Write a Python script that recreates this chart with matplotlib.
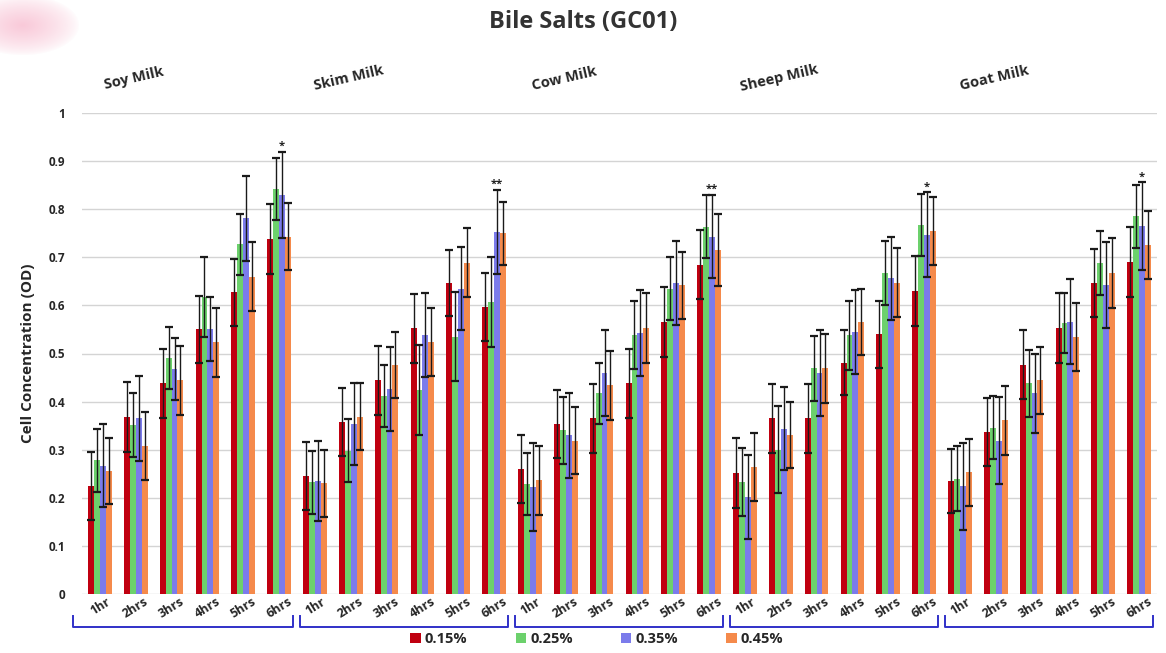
import numpy as np
import matplotlib
matplotlib.use("Agg")
import matplotlib.pyplot as plt
from matplotlib.patches import Patch

plt.rcParams['font.family'] = ['Open Sans', 'DejaVu Sans']

title = "Bile Salts (GC01)"
milks = ["Soy Milk", "Skim Milk", "Cow Milk", "Sheep Milk", "Goat Milk"]
hours = ["1hr", "2hrs", "3hrs", "4hrs", "5hrs", "6hrs"]
series = ["0.15%", "0.25%", "0.35%", "0.45%"]
colors = ["#C00010", "#6CD16C", "#7B7BEB", "#F58A4B"]

# mean OD per milk (rows) and time point (columns)
od_015 = [[0.224, 0.368, 0.438, 0.550, 0.627, 0.738],
          [0.245, 0.358, 0.444, 0.552, 0.646, 0.597],
          [0.260, 0.354, 0.365, 0.438, 0.566, 0.685],
          [0.251, 0.365, 0.365, 0.481, 0.540, 0.630],
          [0.235, 0.337, 0.477, 0.553, 0.646, 0.691]]
od_025 = [[0.278, 0.351, 0.491, 0.618, 0.727, 0.842],
          [0.232, 0.298, 0.412, 0.424, 0.535, 0.607],
          [0.229, 0.340, 0.417, 0.538, 0.635, 0.764],
          [0.233, 0.300, 0.469, 0.538, 0.667, 0.767],
          [0.240, 0.346, 0.438, 0.563, 0.688, 0.785]]
od_035 = [[0.267, 0.365, 0.468, 0.551, 0.781, 0.830],
          [0.235, 0.354, 0.426, 0.538, 0.635, 0.753],
          [0.222, 0.330, 0.460, 0.542, 0.646, 0.743],
          [0.201, 0.344, 0.460, 0.545, 0.656, 0.747],
          [0.224, 0.319, 0.417, 0.566, 0.642, 0.765]]
od_045 = [[0.256, 0.308, 0.444, 0.523, 0.660, 0.743],
          [0.230, 0.369, 0.476, 0.524, 0.689, 0.750],
          [0.236, 0.319, 0.434, 0.553, 0.642, 0.715],
          [0.264, 0.330, 0.469, 0.566, 0.647, 0.755],
          [0.253, 0.361, 0.444, 0.535, 0.667, 0.726]]

# standard deviations
sd_015 = [[0.071, 0.073, 0.072, 0.069, 0.069, 0.072],
          [0.070, 0.071, 0.072, 0.072, 0.069, 0.070],
          [0.070, 0.071, 0.071, 0.072, 0.073, 0.072],
          [0.073, 0.071, 0.071, 0.068, 0.070, 0.073],
          [0.067, 0.071, 0.072, 0.072, 0.071, 0.073]]
sd_025 = [[0.066, 0.066, 0.065, 0.083, 0.063, 0.064],
          [0.065, 0.065, 0.064, 0.093, 0.093, 0.094],
          [0.065, 0.070, 0.064, 0.071, 0.066, 0.066],
          [0.071, 0.090, 0.067, 0.072, 0.066, 0.064],
          [0.067, 0.066, 0.069, 0.062, 0.067, 0.066]]
sd_035 = [[0.087, 0.089, 0.065, 0.067, 0.088, 0.089],
          [0.084, 0.085, 0.088, 0.087, 0.087, 0.087],
          [0.092, 0.088, 0.089, 0.089, 0.087, 0.087],
          [0.087, 0.087, 0.089, 0.087, 0.087, 0.088],
          [0.090, 0.091, 0.083, 0.088, 0.089, 0.091]]
sd_045 = [[0.068, 0.070, 0.071, 0.071, 0.071, 0.070],
          [0.070, 0.070, 0.069, 0.071, 0.071, 0.066],
          [0.071, 0.070, 0.072, 0.073, 0.070, 0.075],
          [0.071, 0.069, 0.071, 0.069, 0.072, 0.071],
          [0.070, 0.071, 0.070, 0.071, 0.073, 0.071]]

# significance marks on the 6 h, 0.35% bar of each milk
stars = ["*", "**", "**", "*", "*"]

means = [od_015, od_025, od_035, od_045]
sds = [sd_015, sd_025, sd_035, sd_045]

fig = plt.figure(figsize=(11.66, 6.53), dpi=100)
fig.patch.set_facecolor("white")

# pink smudge in the upper-left corner, fading out to white on every side
smudge = fig.add_axes([0.0, 1 - 56 / 653, 80 / 1166, 56 / 653])
gx, gy = np.meshgrid(np.linspace(0, 1, 80), np.linspace(0, 1, 56))
r = np.hypot((gx - 0.28) / 0.72, (gy - 0.45) / 0.55)
alpha = np.clip(1.0 - r, 0, 1) ** 0.7 * 0.75
img = np.zeros((56, 80, 4))
img[..., 0], img[..., 1], img[..., 2] = 0.97, 0.72, 0.80
img[..., 3] = alpha
smudge.imshow(img, aspect="auto", interpolation="bilinear")
smudge.axis("off")

ax = fig.add_axes([82 / 1166, 59 / 653, 1075 / 1166, 481 / 653])

n_groups = len(milks)
n_hours = len(hours)
x = np.arange(n_groups * n_hours)
width = 0.165
offsets = (np.arange(len(series)) - 1.5) * width

for k, (name, col) in enumerate(zip(series, colors)):
    vals = np.array(means[k]).ravel()
    errs = np.array(sds[k]).ravel()
    ax.bar(x + offsets[k], vals, width, color=col, label=name, zorder=2,
           yerr=errs, error_kw=dict(ecolor="#1a1a1a", elinewidth=1.0,
                                    capsize=2.6, capthick=1.6, zorder=3))

for g, mark in enumerate(stars):
    i = g * n_hours + n_hours - 1
    top = od_035[g][-1] + sd_035[g][-1]
    ax.annotate(mark, (x[i] + offsets[2], top), xytext=(0, 0),
                textcoords="offset points", ha="center", va="bottom",
                fontsize=8, fontweight="bold", color="#222222")

ax.set_xlim(-0.5, len(x) - 0.5)
ax.set_ylim(0, 1)
ax.set_yticks(np.round(np.arange(0, 1.01, 0.1), 1))
ax.set_yticklabels(["0", "0.1", "0.2", "0.3", "0.4", "0.5", "0.6",
                    "0.7", "0.8", "0.9", "1"])
ax.set_xticks(x)
ax.set_xticklabels(hours * n_groups, rotation=32, ha="center")
ax.tick_params(axis="both", length=0, labelsize=8.5, colors="#262626")
ax.tick_params(axis="x", labelsize=9)
ax.tick_params(axis="y", pad=12)
ax.tick_params(axis="x", pad=1)
for lab in ax.get_xticklabels() + ax.get_yticklabels():
    lab.set_fontweight("bold")
for s in ax.spines.values():
    s.set_visible(False)
ax.grid(axis="y", color="#d4d4d4", linewidth=1.0)
ax.set_axisbelow(True)

ax.set_ylabel("Cell Concentration (OD)", fontsize=11, fontweight="bold",
              color="#262626", labelpad=10)

# group brackets under the time labels and milk names above the bars
tr = ax.get_xaxis_transform()
for g, milk in enumerate(milks):
    x0 = g * n_hours - (0.75 if g == 0 else 0.42)
    x1 = g * n_hours + n_hours - 1 + 0.38
    ax.plot([x0, x0, x1, x1], [-0.045, -0.069, -0.069, -0.045], transform=tr,
            color="#3030C8", lw=1.4, clip_on=False)
    ax.text(g * n_hours + 0.95, 1.072, milk, transform=tr, rotation=13,
            ha="center", va="center", fontsize=10.5, fontweight="bold",
            color="#262626")

fig.text(0.5, 0.966, title, ha="center", va="center", fontsize=17,
         fontweight="bold", color="#333333")

handles = [Patch(facecolor=c, edgecolor="none") for c in colors]
leg = fig.legend(handles, series, loc="center", bbox_to_anchor=(0.512, 0.021),
                 ncol=4, frameon=False, handlelength=0.7, handleheight=0.7,
                 handletextpad=0.3, columnspacing=3.3,
                 prop=dict(size=10.5, weight="bold"))
for t in leg.get_texts():
    t.set_color("#262626")

fig.savefig("out.png", dpi=100, facecolor="white")
